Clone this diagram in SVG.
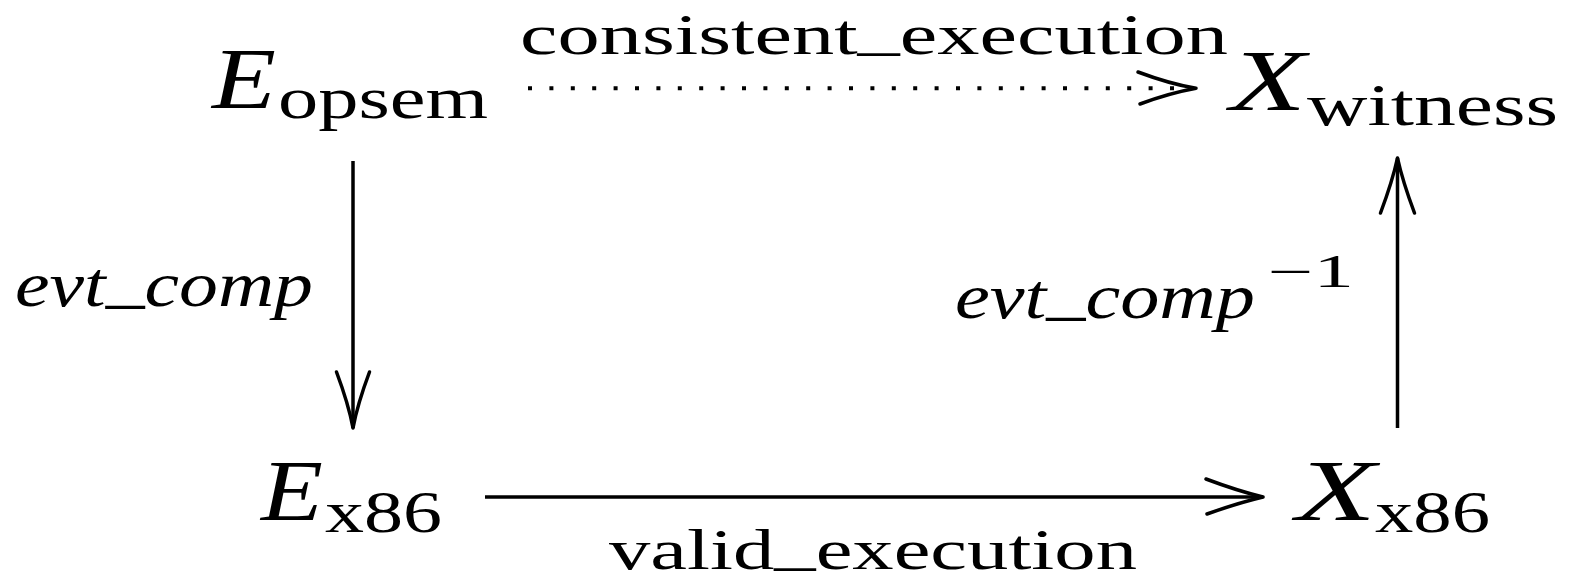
<svg xmlns="http://www.w3.org/2000/svg" width="1578" height="585" viewBox="0 0 1578 585">
<style>
text{font-family:"Liberation Serif","Times New Roman",serif;fill:#000}
.it{font-style:italic}
.big{font-size:87px}
.sub{font-size:59px}
.lbl{font-size:58px}
.ilbl{font-size:63px}
.sup{font-size:46px}
.ln{stroke:#000;stroke-width:3.5;fill:none}
.hd{stroke:#000;stroke-width:3.5;fill:none;stroke-linecap:round}
.dot{stroke:#000;stroke-width:4;fill:none;stroke-dasharray:4 17.4}
</style>
<rect width="1578" height="585" fill="#fff"/>
<g id="E_opsem">
<text class="big it" x="212" y="108" textLength="64" lengthAdjust="spacingAndGlyphs">E</text>
<text class="sub" x="278" y="118" textLength="210" lengthAdjust="spacingAndGlyphs">opsem</text>
</g>
<g id="X_witness">
<text class="big it" x="1230" y="110" textLength="76" lengthAdjust="spacingAndGlyphs">X</text>
<text class="sub" x="1307" y="125" textLength="251" lengthAdjust="spacingAndGlyphs">witness</text>
</g>
<g id="E_x86">
<text class="big it" x="261" y="520" textLength="62" lengthAdjust="spacingAndGlyphs">E</text>
<text class="sub" x="325" y="532" textLength="117" lengthAdjust="spacingAndGlyphs">x86</text>
</g>
<g id="X_x86">
<text class="big it" x="1296" y="520" textLength="80" lengthAdjust="spacingAndGlyphs">X</text>
<text class="sub" x="1375" y="532" textLength="115" lengthAdjust="spacingAndGlyphs">x86</text>
</g>
<g id="connectors">
<line class="dot" x1="528" y1="88.3" x2="1180" y2="88.3"/>
<path class="hd" d="M1138,72 Q1170,84 1196,88.3 M1140,104 Q1170,93 1196,88.3"/>
<line class="ln" x1="353" y1="161" x2="353" y2="428"/>
<path class="hd" d="M336.5,372 Q348.5,404 353,428 M369.5,372 Q357.5,404 353,428"/>
<line class="ln" x1="1397.5" y1="428" x2="1397.5" y2="158"/>
<path class="hd" d="M1380.5,213 Q1392.5,181 1397.5,158 M1414.5,213 Q1402.5,181 1397.5,158"/>
<line class="ln" x1="485" y1="497" x2="1263" y2="497"/>
<path class="hd" d="M1206,479 Q1238,491 1263,497 M1207,514 Q1238,503 1263,497"/>
</g>
<g id="labels">
<text class="lbl" x="520" y="54" textLength="708" lengthAdjust="spacingAndGlyphs">consistent<tspan dy="-5">_</tspan><tspan dy="5">execution</tspan></text>
<text class="lbl" x="609" y="569" textLength="528" lengthAdjust="spacingAndGlyphs">valid<tspan dy="-5">_</tspan><tspan dy="5">execution</tspan></text>
<text class="ilbl it" x="15" y="306" textLength="298" lengthAdjust="spacingAndGlyphs">evt<tspan dy="-5">_</tspan><tspan dy="5">comp</tspan></text>
<text class="ilbl it" x="955" y="318" textLength="300" lengthAdjust="spacingAndGlyphs">evt<tspan dy="-5">_</tspan><tspan dy="5">comp</tspan></text>
<text class="sup" x="1268" y="287" textLength="86" lengthAdjust="spacingAndGlyphs">−1</text>
</g>
</svg>
